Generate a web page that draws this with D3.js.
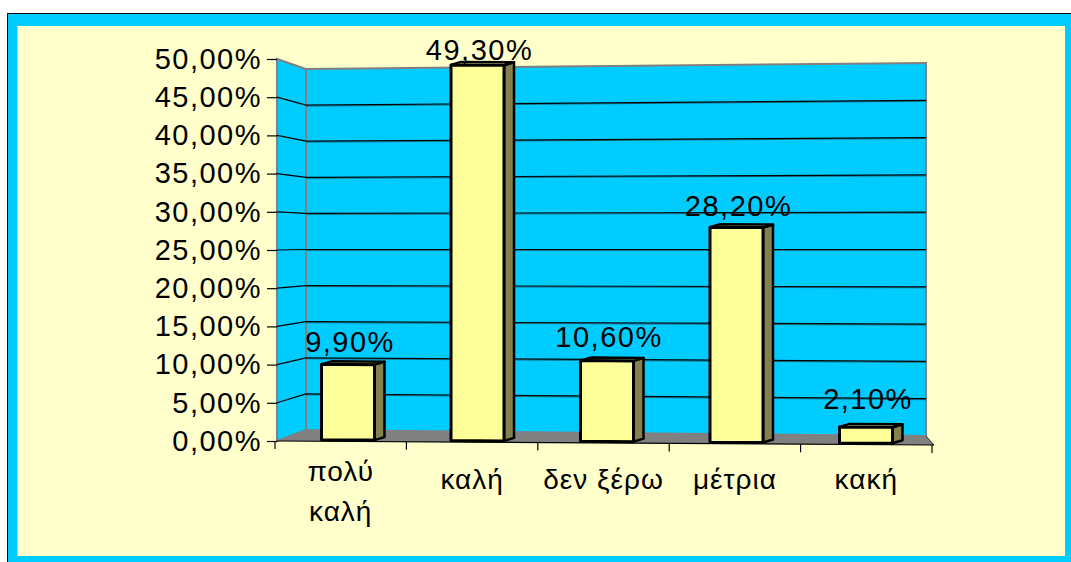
<!DOCTYPE html>
<html>
<head>
<meta charset="utf-8">
<script src="https://cdn.jsdelivr.net/npm/d3@7"></script>
<style>
  body { margin: 0; background: #fff; }
  svg { display: block; }
  text { font-family: "Liberation Sans", Arial, sans-serif; fill: #000; }
</style>
</head>
<body>
<div id="chart"></div>
<script>
// data
var categories = ["πολύ καλή", "καλή", "δεν ξέρω", "μέτρια", "κακή"];
var catLines = [["πολύ", "καλή"], ["καλή"], ["δεν ξέρω"], ["μέτρια"], ["κακή"]];
var values = [9.9, 49.3, 10.6, 28.2, 2.1];
var yTicks = [0, 5, 10, 15, 20, 25, 30, 35, 40, 45, 50];

var width = 1071, height = 562;

var svg = d3.select("#chart")
  .append("svg")
    .attr("width", width)
    .attr("height", height);

// outer frame
svg.append("rect")
  .attr("x", 7.5).attr("y", 13.5)
  .attr("width", 1090).attr("height", 570)
  .style("fill", "#00ccff")
  .style("stroke", "#000")
  .style("stroke-width", 1);
svg.append("rect")
  .attr("x", 17.5).attr("y", 26)
  .attr("width", 1047.5).attr("height", 530)
  .style("fill", "#ffffcc");

// greek number format: 49,30%
var locale = d3.formatLocale({decimal: ",", thousands: ".", grouping: [3], currency: ["", "€"]});
var fmt = locale.format(".2%");

// scales (front plane, back wall left / right edge, bar height, labels)
var yFront = d3.scaleLinear().domain([0, 50]).range([441, 59]);
var yBackL = d3.scaleLinear().domain([0, 50]).range([430, 69]);
var yBackR = d3.scaleLinear().domain([0, 50]).range([436, 63]);
var hBar = d3.scaleLinear().domain([0, 50]).range([0, 381]);
var yLabel = d3.scaleLinear().domain([0, 50]).range([425, 55]);
var xBar = d3.scalePoint().domain(categories).range([348, 866]);
var xAxis = d3.scaleBand().domain(categories).range([275, 932]);

var wallL = 306, wallR = 926, frontL = 277, frontR = 934;
function frontY(x) { return 441 + (x - frontL) * 4 / (frontR - frontL); }

var line = d3.line();

// side wall
svg.append("path")
  .attr("d", line([[frontL, yFront(50)], [wallL, yBackL(50)], [wallL, yBackL(0)], [frontL, yFront(0)]]) + "Z")
  .style("fill", "#00ccff")
  .style("stroke", "#808080")
  .style("stroke-width", 2);

// back wall
svg.append("path")
  .attr("d", line([[wallL, yBackL(50)], [wallR, yBackR(50)], [wallR, yBackR(0)], [wallL, yBackL(0)]]) + "Z")
  .style("fill", "#00ccff")
  .style("stroke", "#808080")
  .style("stroke-width", 2);

// gridlines
var grid = yTicks.filter(function(v) { return v > 0 && v < 50; });
svg.append("g")
  .selectAll("line")
  .data(grid)
  .enter()
  .append("line")
    .attr("x1", wallL).attr("x2", wallR)
    .attr("y1", d => yBackL(d) + 1).attr("y2", d => yBackR(d) + 1)
    .style("stroke", "#1b6f88")
    .style("stroke-width", 1);
svg.append("g")
  .selectAll("line")
  .data(grid)
  .enter()
  .append("line")
    .attr("x1", wallL).attr("x2", wallR)
    .attr("y1", d => yBackL(d)).attr("y2", d => yBackR(d))
    .style("stroke", "#000")
    .style("stroke-width", 1.2);
svg.append("g")
  .selectAll("line")
  .data(grid)
  .enter()
  .append("line")
    .attr("x1", frontL).attr("x2", wallL)
    .attr("y1", d => yFront(d)).attr("y2", d => yBackL(d))
    .style("stroke", "#000")
    .style("stroke-width", 1.2);

// floor
svg.append("path")
  .attr("d", line([[frontL, frontY(frontL)], [wallL, yBackL(0)], [wallR, yBackR(0)], [frontR, frontY(frontR)]]) + "Z")
  .style("fill", "#808080");
svg.append("path")
  .attr("d", line([[wallR, yBackR(0)], [frontR, frontY(frontR)]]))
  .style("stroke", "#333")
  .style("fill", "none");
svg.append("path")
  .attr("d", line([[frontL, frontY(frontL)], [frontR, frontY(frontR)]]))
  .style("stroke", "#000")
  .style("stroke-width", 1.2)
  .style("fill", "none");

// category ticks
var bounds = categories.map(c => xAxis(c)).concat([xAxis(categories[4]) + xAxis.bandwidth()]);
svg.append("g")
  .selectAll("line")
  .data(bounds)
  .enter()
  .append("line")
    .attr("x1", d => d).attr("x2", d => d)
    .attr("y1", d => frontY(d)).attr("y2", d => frontY(d) + 8)
    .style("stroke", "#000")
    .style("stroke-width", 1.2);

// y axis
var yAxis = svg.append("g")
  .attr("transform", "translate(" + frontL + ",0)")
  .call(d3.axisLeft(yFront).tickValues(yTicks).tickSize(10).tickPadding(5).tickFormat(d => fmt(d / 100)));
yAxis.select(".domain").remove();
yAxis.selectAll("line").style("stroke", "#000").style("stroke-width", 1.2);
yAxis.selectAll("text")
  .style("font-family", "'Liberation Sans', Arial, sans-serif")
  .style("font-size", "29px")
  .style("letter-spacing", "1.5px")
  .style("fill", "#000");

// bars
var bw = 53, dx = 10, dy = -3;
var bars = svg.append("g")
  .selectAll("g")
  .data(values)
  .enter()
  .append("g");

function geo(d, i) {
  var c = xBar(categories[i]);
  var xl = c - bw / 2, xr = c + bw / 2;
  var bl = frontY(xl) - 1.5, br = frontY(xr) - 1.5;
  return {xl: xl, xr: xr, bl: bl, br: br, tl: bl - hBar(d), tr: br - hBar(d)};
}

bars.append("path")
  .attr("d", (d, i) => { var g = geo(d, i);
    return line([[g.xr, g.tr], [g.xr + dx, g.tr + dy], [g.xr + dx, g.br + dy], [g.xr, g.br]]) + "Z"; })
  .style("fill", "#85814f")
  .style("stroke", "#000")
  .style("stroke-width", 2.5)
  .style("stroke-linejoin", "round");
bars.append("path")
  .attr("d", (d, i) => { var g = geo(d, i);
    return line([[g.xl, g.tl], [g.xl + dx, g.tl + dy], [g.xr + dx, g.tr + dy], [g.xr, g.tr]]) + "Z"; })
  .style("fill", "#ffffa8")
  .style("stroke", "#000")
  .style("stroke-width", 2.5)
  .style("stroke-linejoin", "round");
bars.append("path")
  .attr("d", (d, i) => { var g = geo(d, i);
    return line([[g.xl, g.tl], [g.xr, g.tr], [g.xr, g.br], [g.xl, g.bl]]) + "Z"; })
  .style("fill", "#ffff99")
  .style("stroke", "#000")
  .style("stroke-width", 3)
  .style("stroke-linejoin", "round");

// data labels
svg.append("g")
  .selectAll("text")
  .data(values)
  .enter()
  .append("text")
    .text(d => fmt(d / 100))
    .attr("x", (d, i) => xBar(categories[i]) + 2)
    .attr("y", d => yLabel(d))
    .style("text-anchor", "middle")
    .style("font-size", "29px")
    .style("letter-spacing", "1.5px");

// category labels
var cat = svg.append("g")
  .selectAll("text")
  .data(categories)
  .enter()
  .append("text")
    .attr("x", d => xAxis(d) + xAxis.bandwidth() / 2)
    .attr("y", (d, i) => catLines[i].length > 1 ? 481 : 489)
    .style("text-anchor", "middle")
    .style("font-size", "28px")
    .style("letter-spacing", "1px");
cat.selectAll("tspan")
  .data((d, i) => catLines[i])
  .enter()
  .append("tspan")
    .attr("x", function() { return d3.select(this.parentNode).attr("x"); })
    .attr("dy", (d, j) => j === 0 ? 0 : 40)
    .text(d => d);
</script>
</body>
</html>
